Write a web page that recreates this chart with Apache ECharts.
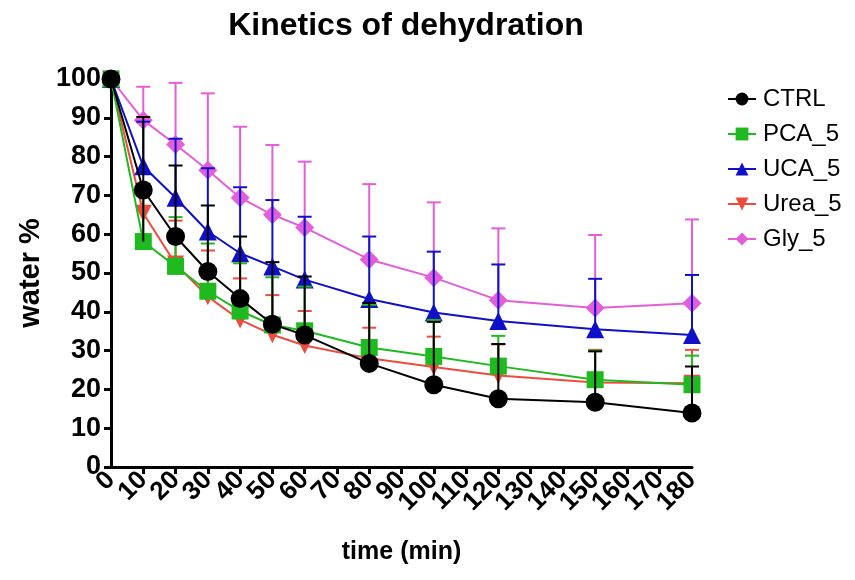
<!DOCTYPE html>
<html>
<head>
<meta charset="utf-8">
<title>Kinetics of dehydration</title>
<script src="https://cdn.jsdelivr.net/npm/echarts@6/dist/echarts.min.js"></script>
<style>
  html, body { margin: 0; padding: 0; background: #fff; }
  #main { width: 855px; height: 580px; }
</style>
</head>
<body>
<div id="main"></div>
<script>
// time points (min)
var times = [0, 10, 20, 30, 40, 50, 60, 80, 100, 120, 150, 180];
var xTicks = [0, 10, 20, 30, 40, 50, 60, 70, 80, 90, 100, 110, 120, 130, 140, 150, 160, 170, 180];

// mean water %
var ctrl  = [100, 71.4, 59.4, 50.4, 43.4, 36.8, 34.0, 26.7, 21.2, 17.6, 16.7, 13.9];
var pca5  = [100, 58.1, 51.7, 45.3, 40.2, 36.6, 35.1, 30.8, 28.5, 26.0, 22.5, 21.2];
var uca5  = [100, 77.5, 69.4, 60.7, 55.1, 51.7, 48.3, 43.3, 39.8, 37.6, 35.5, 34.0];
var urea5 = [100, 65.4, 52.3, 43.9, 37.9, 34.1, 31.3, 28.0, 25.8, 23.6, 21.8, 21.6];
var gly5  = [100, 89.4, 83.1, 76.5, 69.4, 65.0, 61.7, 53.5, 48.8, 43.0, 41.0, 42.2];

// top of the error bars (mean + SD)
var ctrlHi  = [null, 90.2, 77.7, 67.4, 59.4, 52.8, 49.1, 42.3, 37.4, 31.7, 29.8, 25.9];
var pca5Hi  = [null, 73.0, 64.4, 57.6, 52.5, 48.9, 46.5, 41.8, 37.9, 33.8, 30.0, 28.7];
var uca5Hi  = [null, 89.0, 84.6, 77.0, 72.1, 68.8, 64.5, 59.4, 55.5, 52.2, 48.5, 49.5];
var urea5Hi = [null, 72.5, 63.5, 55.8, 48.6, 44.3, 40.2, 35.9, 33.6, 31.6, 30.2, 30.2];
var gly5Hi  = [null, 98.0, 99.0, 96.3, 87.7, 83.0, 78.7, 72.9, 68.2, 61.5, 59.8, 63.8];

// CTRL bar at 10 min also drawn downward
var ctrlLo  = [null, 58.1, null, null, null, null, null, null, null, null, null, null];

var chart = echarts.init(document.getElementById('main'));

function points(vals) {
    return times.map(function (t, i) { return [t, vals[i]]; });
}

function bars(vals, hi, lo) {
    var out = [];
    times.forEach(function (t, i) {
        if (hi[i] == null) return;
        var low = (lo && lo[i] != null) ? lo[i] : vals[i];
        out.push([t, low, hi[i]]);
    });
    return out;
}

function errSeries(name, color, vals, hi, z, lo) {
    return {
        name: name + ' SD',
        type: 'custom',
        z: z,
        silent: true,
        clip: false,
        encode: {x: 0, y: [1, 2]},
        data: bars(vals, hi, lo),
        renderItem: function (params, api) {
            var p1 = api.coord([api.value(0), api.value(1)]);
            var p2 = api.coord([api.value(0), api.value(2)]);
            var w = 7;
            return {
                type: 'group',
                children: [
                    {type: 'line', shape: {x1: p1[0], y1: p1[1], x2: p2[0], y2: p2[1]},
                     style: {stroke: color, lineWidth: 2}},
                    {type: 'line', shape: {x1: p2[0] - w, y1: p2[1], x2: p2[0] + w, y2: p2[1]},
                     style: {stroke: color, lineWidth: 2}}
                ]
            };
        }
    };
}

function lineSeries(name, color, vals, symbol, size, z, rot) {
    return {
        name: name,
        type: 'line',
        z: z,
        data: points(vals),
        symbol: symbol,
        symbolSize: size,
        symbolRotate: rot || 0,
        showAllSymbol: true,
        lineStyle: {color: color, width: 2},
        itemStyle: {color: color, borderWidth: 0},
        emphasis: {disabled: true}
    };
}

var cBlack = '#000000', cGreen = '#1fba1f', cBlue = '#1010c8', cRed = '#ee4b3e', cPink = '#e25fd9';

var xLabelStyle = {rotate: 45, fontSize: 26, fontWeight: 'bold', color: '#000', margin: 9};
var endTicks = [xTicks[0], xTicks[xTicks.length - 1]];

var option = {
    animation: false,
    backgroundColor: '#fff',
    textStyle: {fontFamily: 'Liberation Sans, Arial, sans-serif'},
    title: {
        text: 'Kinetics of dehydration',
        left: 401,
        textAlign: 'center',
        top: 5,
        textStyle: {fontSize: 32, fontWeight: 'bold', color: '#000'}
    },
    legend: {
        orient: 'vertical',
        left: 722,
        top: 82,
        itemWidth: 28,
        itemHeight: 16,
        itemGap: 11,
        data: ['CTRL', 'PCA_5', 'UCA_5', 'Urea_5', 'Gly_5'],
        textStyle: {fontSize: 24, color: '#000', padding: [0, 0, 0, 2]}
    },
    grid: {left: 111, right: 163, top: 79, bottom: 113, containLabel: false},
    xAxis: [{
        type: 'value',
        min: 0,
        max: 180,
        interval: 10,
        name: 'time (min)',
        nameLocation: 'middle',
        nameGap: 73,
        nameTextStyle: {fontSize: 25, fontWeight: 'bold', color: '#000'},
        axisLine: {show: true, onZero: false, lineStyle: {color: '#000', width: 3}},
        axisTick: {show: true, length: 7, lineStyle: {color: '#000', width: 3}},
        axisLabel: Object.assign({
            showMinLabel: false, showMaxLabel: false,
            formatter: function (v) { return xTicks.indexOf(v) >= 0 ? String(v) : ''; }
        }, xLabelStyle),
        splitLine: {show: false}
    }, {
        // second axis on the same scale, only for the end labels 0 and 180
        type: 'value',
        position: 'bottom',
        min: 0,
        max: 180,
        interval: 10,
        axisLine: {show: false},
        axisTick: {show: false},
        axisLabel: Object.assign({
            showMinLabel: true, showMaxLabel: true,
            formatter: function (v) { return endTicks.indexOf(v) >= 0 ? String(v) : ''; }
        }, xLabelStyle),
        splitLine: {show: false}
    }],
    yAxis: {
        type: 'value',
        min: 0,
        max: 100,
        interval: 10,
        name: 'water %',
        nameLocation: 'middle',
        nameGap: 54,
        nameTextStyle: {fontSize: 29, fontWeight: 'bold', color: '#000'},
        axisLine: {show: true, lineStyle: {color: '#000', width: 3}},
        axisTick: {show: true, length: 7, lineStyle: {color: '#000', width: 3}},
        axisLabel: {fontSize: 27, fontWeight: 'bold', color: '#000', margin: 10,
            showMinLabel: true, showMaxLabel: true},
        splitLine: {show: false}
    },
    series: [
        errSeries('Gly_5', cPink, gly5, gly5Hi, 1),
        lineSeries('Gly_5', cPink, gly5, 'diamond', 19, 2),
        errSeries('Urea_5', cRed, urea5, urea5Hi, 3),
        lineSeries('Urea_5', cRed, urea5, 'triangle', 17, 4, 180),
        errSeries('UCA_5', cBlue, uca5, uca5Hi, 5),
        lineSeries('UCA_5', cBlue, uca5, 'triangle', 18, 6),
        errSeries('PCA_5', cGreen, pca5, pca5Hi, 7),
        lineSeries('PCA_5', cGreen, pca5, 'rect', 17, 8),
        errSeries('CTRL', cBlack, ctrl, ctrlHi, 9, ctrlLo),
        lineSeries('CTRL', cBlack, ctrl, 'circle', 19, 10)
    ]
};

chart.setOption(option);
</script>
</body>
</html>
